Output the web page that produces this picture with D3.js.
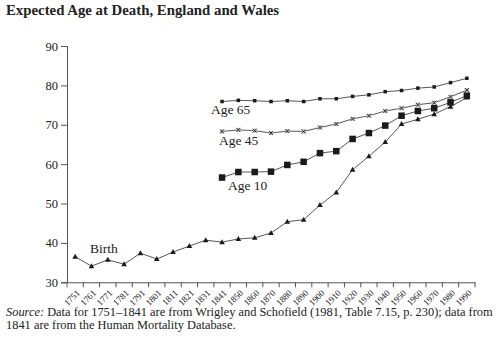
<!DOCTYPE html>
<html>
<head>
<meta charset="utf-8">
<script src="https://cdn.jsdelivr.net/npm/d3@7"></script>
<style>
 body { margin: 0; background: #fff; }
</style>
</head>
<body>
<script>
 // Expected age at death, England and Wales

 // categories on the x axis (decades, uneven before 1850)
 var years = ["1751", "1761", "1771", "1781", "1791", "1801", "1811", "1821", "1831", "1841",
 	"1850", "1860", "1870", "1880", "1890", "1900", "1910", "1920", "1930", "1940",
 	"1950", "1960", "1970", "1980", "1990"];

 // series
 var birth = [36.5, 34.1, 35.7, 34.6, 37.4, 35.9, 37.7, 39.2, 40.7, 40.2,
 	41.0, 41.3, 42.5, 45.4, 45.9, 49.6, 52.8, 58.6, 62.0, 65.6,
 	70.2, 71.4, 72.7, 74.6, 76.9];
 var age10 = [56.6, 58.0, 58.0, 58.1, 59.8, 60.6, 62.8, 63.3, 66.4, 67.9, 69.8, 72.3, 73.5, 74.2, 75.7, 77.4];
 var age45 = [68.3, 68.7, 68.5, 67.9, 68.4, 68.3, 69.3, 70.2, 71.5, 72.3, 73.5, 74.2, 75.1, 75.6, 77.1, 78.8];
 var age65 = [75.9, 76.2, 76.1, 75.9, 76.1, 75.9, 76.6, 76.6, 77.2, 77.6, 78.4, 78.7, 79.3, 79.6, 80.7, 81.8];

 var yTicks = [30, 40, 50, 60, 70, 80, 90];

 var width = 500, height = 353;
 var serif = "'Liberation Serif', 'DejaVu Serif', serif";

 var svg = d3.select("body").append("svg")
 	.attr("width", width)
 	.attr("height", height)
 	.attr("font-family", serif);

 // scales
 var x = d3.scaleBand().domain(years).range([67, 475]);
 var y = d3.scaleLinear().domain([30, 90]).range([282.3, 46]);

 // title
 svg.append("text")
 	.attr("x", 6)
 	.attr("y", 15)
 	.attr("fill", "#222")
 	.style("font-size", "14.8px")
 	.style("font-weight", "bold")
 	.text("Expected Age at Death, England and Wales");

 // y axis
 var yAxis = svg.append("g")
 	.attr("transform", "translate(67,0)")
 	.call(d3.axisLeft(y).tickValues(yTicks).tickSize(6).tickPadding(3));
 yAxis.attr("font-family", serif).attr("font-size", 12.5);
 yAxis.selectAll("text").attr("fill", "#222");

 // x axis, ticks sit on the band edges
 var xAxis = svg.append("g")
 	.attr("transform", "translate(0,282.3)")
 	.call(d3.axisBottom(x).tickSize(0));
 xAxis.attr("font-family", serif).attr("font-size", 9);
 xAxis.selectAll(".tick text")
 	.attr("fill", "#222")
 	.attr("x", 0)
 	.attr("y", 0)
 	.attr("dy", "0.35em")
 	.style("text-anchor", "end")
 	.attr("transform", "translate(3,9) rotate(-45)");
 var edges = years.map(function (d) { return x(d); }).concat([x.range()[1]]);
 xAxis.selectAll("line.edge")
 	.data(edges)
 	.enter().append("line")
 	.attr("class", "edge")
 	.attr("x1", function (d) { return d; })
 	.attr("x2", function (d) { return d; })
 	.attr("y1", 0)
 	.attr("y2", 5)
 	.attr("stroke", "#555");

 svg.selectAll(".domain").attr("stroke", "#555");
 yAxis.selectAll(".tick line").attr("stroke", "#555");

 // series helpers
 function cx(d) { return x(d.year) + x.bandwidth() / 2; }
 function toPoints(values) {
 	var offset = years.length - values.length;
 	return values.map(function (v, i) { return { year: years[i + offset], value: v }; });
 }

 var line = d3.line()
 	.x(cx)
 	.y(function (d) { return y(d.value); });

 var series = [
 	{ name: "Birth", data: toPoints(birth), marker: "triangle", size: 5 },
 	{ name: "Age 10", data: toPoints(age10), marker: "square", size: 6.5 },
 	{ name: "Age 45", data: toPoints(age45), marker: "cross", size: 4 },
 	{ name: "Age 65", data: toPoints(age65), marker: "square", size: 3.5 }
 ];

 series.forEach(function (s) {
 	svg.append("path")
 		.datum(s.data)
 		.attr("fill", "none")
 		.attr("stroke", "#444")
 		.attr("stroke-width", 0.9)
 		.attr("d", line);

 	var g = svg.append("g").selectAll("g")
 		.data(s.data)
 		.enter().append("g")
 		.attr("transform", function (d) {
 			return "translate(" + cx(d) + "," + y(d.value) + ")";
 		});

 	if (s.marker === "square") {
 		g.append("rect")
 			.attr("x", -s.size / 2)
 			.attr("y", -s.size / 2)
 			.attr("width", s.size)
 			.attr("height", s.size)
 			.attr("fill", "#1a1a1a");
 	} else if (s.marker === "triangle") {
 		g.append("path")
 			.attr("d", "M0,-3 L2.8,2 L-2.8,2 Z")
 			.attr("fill", "#1a1a1a");
 	} else {
 		// small x inside a faint box
 		g.append("rect")
 			.attr("x", -2).attr("y", -2)
 			.attr("width", 4).attr("height", 4)
 			.attr("fill", "#bbb");
 		g.append("path")
 			.attr("d", "M-2,-2 L2,2 M-2,2 L2,-2")
 			.attr("stroke", "#222")
 			.attr("stroke-width", 0.9);
 	}
 });

 // series labels
 var labels = [
 	{ text: "Birth", x: 90, y: 253 },
 	{ text: "Age 10", x: 228, y: 190 },
 	{ text: "Age 45", x: 219, y: 145 },
 	{ text: "Age 65", x: 211, y: 114 }
 ];
 svg.selectAll("text.label")
 	.data(labels)
 	.enter().append("text")
 	.attr("class", "label")
 	.attr("x", function (d) { return d.x; })
 	.attr("y", function (d) { return d.y; })
 	.attr("fill", "#222")
 	.style("font-size", "13.5px")
 	.text(function (d) { return d.text; });

 // source note
 var note = svg.append("text")
 	.attr("x", 6)
 	.attr("y", 316)
 	.attr("fill", "#222")
 	.style("font-size", "12.4px");
 note.append("tspan").style("font-style", "italic").text("Source:");
 note.append("tspan").text(" Data for 1751\u20131841 are from Wrigley and Schofield (1981, Table 7.15, p. 230); data from");
 svg.append("text")
 	.attr("x", 6)
 	.attr("y", 329)
 	.attr("fill", "#222")
 	.style("font-size", "12.4px")
 	.text("1841 are from the Human Mortality Database.");
</script>
</body>
</html>
